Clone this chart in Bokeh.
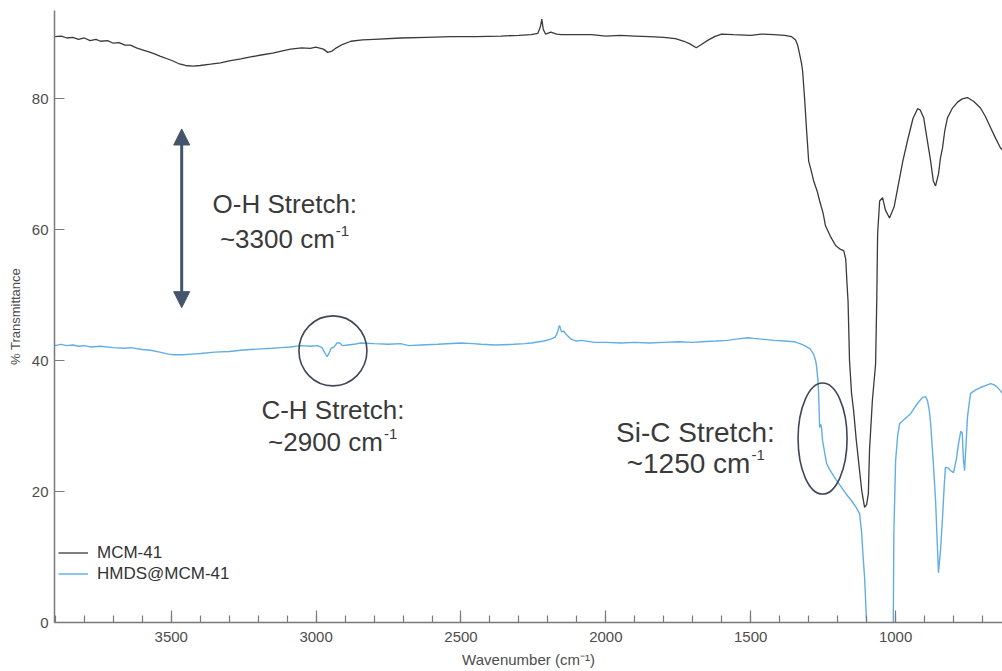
import math
from bokeh.plotting import figure
from bokeh.models import Range1d, FixedTicker, Arrow, NormalHead, Legend, LegendItem
from bokeh.core.properties import value
from bokeh.embed import file_html
from bokeh.resources import INLINE

# ---------------- data ----------------
mcm_wavenumber = [3903, 3880, 3860, 3840, 3820, 3800, 3780, 3760, 3744, 3720, 3700, 3680, 3660, 3641,
                  3620, 3600, 3580, 3560, 3537, 3500, 3475, 3451, 3425, 3400, 3364, 3330, 3300, 3260,
                  3226, 3190, 3150, 3120, 3088, 3050, 3020, 3001, 2975, 2960, 2945, 2930, 2910, 2880,
                  2840, 2800, 2708, 2620, 2535, 2450, 2362, 2300, 2258, 2235, 2226, 2221, 2216, 2208,
                  2190, 2170, 2154, 2100, 2050, 2000, 1950, 1900, 1850, 1800, 1760, 1730, 1710, 1688,
                  1670, 1650, 1625, 1601, 1560, 1500, 1463, 1420, 1383, 1359, 1345, 1338, 1332, 1325,
                  1321, 1314, 1307, 1300, 1290, 1283, 1270, 1262, 1250, 1242, 1225, 1207, 1190, 1179,
                  1172, 1168, 1164, 1159, 1152, 1145, 1136, 1128, 1117, 1107, 1100, 1094, 1090, 1080,
                  1069, 1065, 1062, 1055, 1045, 1035, 1021, 1005, 990, 975, 959, 940, 924, 915, 903,
                  890, 879, 870, 862, 852, 845, 838, 830, 821, 805, 786, 770, 752, 730, 707, 690, 672,
                  655, 638, 631]
mcm_transmittance = [89.5, 89.6, 89.3, 89.4, 89.1, 89.3, 88.9, 89.1, 88.8, 88.9, 88.5, 88.6, 88.2, 88.2,
                     87.8, 87.5, 87.2, 86.9, 86.5, 85.9, 85.4, 85.1, 85.0, 85.1, 85.3, 85.5, 85.8, 86.1,
                     86.4, 86.7, 87.0, 87.3, 87.6, 87.8, 87.7, 87.9, 87.6, 87.1, 87.3, 87.8, 88.3, 88.8,
                     89.0, 89.1, 89.3, 89.4, 89.5, 89.5, 89.6, 89.7, 89.8, 90.0, 91.0, 92.2, 90.6, 89.9,
                     90.2, 89.9, 89.8, 89.8, 89.8, 89.6, 89.7, 89.6, 89.5, 89.4, 89.2, 88.8, 88.4, 87.8,
                     88.3, 88.9, 89.5, 89.9, 89.8, 89.7, 89.9, 89.8, 89.7, 89.5, 89.0, 88.2, 87.0, 85.5,
                     84.3, 80.0, 75.1, 70.5, 68.8, 67.5, 65.8, 64.4, 62.5, 60.6, 59.0, 57.6, 57.0, 56.8,
                     55.5, 52.0, 49.0, 40.0, 35.0, 32.4, 28.0, 24.7, 20.2, 17.6, 18.0, 19.7, 26.3, 34.0,
                     39.5, 49.2, 59.4, 64.4, 64.9, 63.0, 61.8, 63.5, 67.0, 70.5, 73.6, 77.0, 78.5, 78.3, 77.1,
                     73.5, 70.5, 67.5, 66.7, 68.5, 71.0, 72.5, 75.2, 77.1, 78.5, 79.5, 80.0, 80.2, 79.6, 78.6,
                     77.3, 75.6, 74.0, 72.5, 72.2]

hmds_wavenumber = [3903, 3880, 3860, 3840, 3820, 3800, 3780, 3744, 3700, 3660, 3641, 3600, 3571, 3540,
                   3510, 3492, 3460, 3430, 3399, 3350, 3300, 3260, 3226, 3190, 3150, 3120, 3088, 3053,
                   3020, 2995, 2980, 2970, 2962, 2955, 2948, 2938, 2928, 2918, 2910, 2890, 2870, 2846,
                   2800, 2750, 2708, 2680, 2639, 2580, 2500, 2460, 2431, 2380, 2317, 2280, 2258, 2230,
                   2213, 2190, 2175, 2168, 2160, 2153, 2145, 2137, 2120, 2102, 2085, 2040, 2000, 1947,
                   1900, 1850, 1800, 1750, 1700, 1670, 1620, 1580, 1550, 1510, 1490, 1463, 1420, 1383,
                   1350, 1330, 1314, 1295, 1283, 1276, 1273, 1268, 1266, 1262, 1259, 1256, 1252, 1245,
                   1238, 1228, 1221, 1205, 1186, 1170, 1152, 1135, 1124, 1117, 1112, 1107, 1100, 1095,
                   1015, 1008, 1006, 1000, 993, 986, 969, 948, 935, 924, 907, 896, 890, 884, 879, 870,
                   862, 856, 852, 845, 838, 832, 828, 818, 810, 800, 790, 783, 775, 770, 766, 762, 757,
                   752, 746, 741, 725, 707, 690, 672, 660, 650, 640, 631]
hmds_transmittance = [42.3, 42.5, 42.3, 42.4, 42.2, 42.3, 42.1, 42.2, 42.0, 41.9, 42.0, 41.7, 41.6, 41.3,
                      41.0, 40.9, 40.9, 41.0, 41.1, 41.3, 41.4, 41.6, 41.7, 41.8, 41.9, 42.0, 42.1, 42.3,
                      42.2, 42.3, 42.0, 41.2, 40.6, 41.2, 41.9, 42.1, 42.7, 42.7, 42.3, 42.4, 42.5, 42.7,
                      42.6, 42.5, 42.6, 42.3, 42.4, 42.5, 42.7, 42.6, 42.5, 42.4, 42.5, 42.6, 42.7, 42.9,
                      43.0, 43.3, 43.6, 44.2, 45.4, 44.4, 44.5, 44.0, 43.3, 43.0, 43.1, 42.8, 42.8, 42.7,
                      42.8, 42.7, 42.8, 42.9, 42.8, 42.9, 43.0, 43.1, 43.3, 43.5, 43.4, 43.3, 43.1, 43.0,
                      42.9, 42.6, 42.3, 41.8, 41.0, 40.0, 39.2, 37.0, 35.4, 29.8, 30.3, 29.9, 27.8, 26.0,
                      24.3, 23.4, 22.9, 21.8, 20.6, 19.6, 18.6, 17.5, 16.6, 13.6, 10.0, 6.9, 0.0, -5.0,
                      -5.0, 0.0, 13.6, 24.7, 28.5, 30.4, 31.1, 31.9, 32.8, 33.5, 34.4, 34.5, 33.9, 32.5,
                      30.4, 24.5, 18.6, 12.0, 7.6, 11.0, 16.0, 21.0, 23.7, 23.6, 23.2, 22.9, 25.0, 27.3,
                      29.2, 29.0, 25.0, 23.2, 27.0, 31.3, 33.5, 35.0, 35.5, 35.9, 36.2, 36.5, 36.3, 36.0,
                      35.5, 35.0]

series_names = ["MCM-41", "HMDS@MCM-41"]
x_major_ticks = [1000, 1500, 2000, 2500, 3000, 3500]
x_minor_ticks = list(range(700, 3901, 100))
y_major_ticks = [0, 20, 40, 60, 80]

# ---------------- styles ----------------
FONT = "Liberation Sans"
BLACK_LINE = "#3a3a3a"
BLUE_LINE = "#62aee3"
AXIS_COL = "#7a7a7a"
TICK_TXT = "#4d4d4d"
ANNOT_TXT = "#3a3a3a"
SHAPE_COL = "#3f4758"
ARROW_COL = "#44546a"

p = figure(width=1002, height=671, output_backend="svg", toolbar_location=None,
           x_range=Range1d(3903, 631), y_range=Range1d(0, 93.5),
           min_border_left=54, min_border_right=0, min_border_top=10, min_border_bottom=49)
p.outline_line_color = None
p.xgrid.visible = False
p.ygrid.visible = False
p.background_fill_color = "white"
p.border_fill_color = "white"

r1 = p.line(mcm_wavenumber, mcm_transmittance, line_color=BLACK_LINE, line_width=1.3)
r2 = p.line(hmds_wavenumber, hmds_transmittance, line_color=BLUE_LINE, line_width=1.4)

# axes
xa = p.xaxis[0]
xa.ticker = FixedTicker(ticks=x_major_ticks, minor_ticks=x_minor_ticks)
xa.major_tick_in = 12
xa.major_tick_out = 0
xa.minor_tick_in = 7
xa.minor_tick_out = 0
xa.axis_line_color = AXIS_COL
xa.axis_line_width = 1.5
xa.major_tick_line_color = AXIS_COL
xa.minor_tick_line_color = AXIS_COL
xa.major_tick_line_width = 1.2
xa.minor_tick_line_width = 1.2
xa.major_label_text_font = FONT
xa.major_label_text_font_size = "15px"
xa.major_label_text_color = TICK_TXT
xa.major_label_standoff = 9
xa.axis_label = "Wavenumber (cm\u207b\u00b9)"
xa.axis_label_text_font = FONT
xa.axis_label_text_font_size = "15px"
xa.axis_label_text_font_style = "normal"
xa.axis_label_text_color = TICK_TXT
xa.axis_label_standoff = 6

ya = p.yaxis[0]
ya.ticker = FixedTicker(ticks=y_major_ticks, minor_ticks=[])
ya.major_tick_in = 10
ya.major_tick_out = 0
ya.minor_tick_in = 0
ya.minor_tick_out = 0
ya.axis_line_color = AXIS_COL
ya.axis_line_width = 1.5
ya.major_tick_line_color = AXIS_COL
ya.major_tick_line_width = 1.2
ya.major_label_text_font = FONT
ya.major_label_text_font_size = "15px"
ya.major_label_text_color = TICK_TXT
ya.major_label_standoff = 6
ya.axis_label = "% Transmittance"
ya.axis_label_text_font = FONT
ya.axis_label_text_font_size = "13px"
ya.axis_label_text_font_style = "normal"
ya.axis_label_text_color = TICK_TXT
ya.axis_label_standoff = 6

# legend
legend = Legend(items=[LegendItem(label=series_names[0], renderers=[r1]),
                       LegendItem(label=series_names[1], renderers=[r2])],
                location=(4, 38), orientation="vertical", padding=0, spacing=0,
                glyph_width=30, glyph_height=21, label_height=21, label_standoff=9,
                label_text_font=FONT, label_text_font_size="17px", label_text_color="#333333",
                background_fill_alpha=0, border_line_color=None)
p.add_layout(legend)

# annotations
p.add_layout(Arrow(x_start=3464, y_start=48.1, x_end=3464, y_end=75.4,
                   line_color=ARROW_COL, line_width=3,
                   start=NormalHead(size=16, fill_color=ARROW_COL, line_color=ARROW_COL),
                   end=NormalHead(size=16, fill_color=ARROW_COL, line_color=ARROW_COL)))

p.ellipse(x=[2942], y=[41.5], width=[68], height=[70], width_units="screen", height_units="screen",
          fill_color=None, line_color=SHAPE_COL, line_width=1.6)
p.ellipse(x=[1252], y=[28.1], width=[49], height=[111], width_units="screen", height_units="screen",
          fill_color=None, line_color=SHAPE_COL, line_width=1.6)

annotations = [
    # (center wavenumber, y of title line, y of value line, title, value text, font px, sup offset px)
    (3108, 64.0, 58.6, "O-H Stretch:", "~3300 cm", 26, 50),
    (2942, 32.4, 27.6, "C-H Stretch:", "~2900 cm", 26, 50),
    (1691, 29.0, 24.3, "Si-C Stretch:", "~1250 cm", 28, 55),
]
for xc, y1, y2, title, val, fs, off in annotations:
    p.text(x=[xc], y=[y1], text=[title], text_align="center", text_baseline="middle",
           text_font=value(FONT), text_font_size=f"{fs}px", text_color=ANNOT_TXT)
    p.text(x=[xc], y=[y2], text=[val], x_offset=off, text_align="right", text_baseline="middle",
           text_font=value(FONT), text_font_size=f"{fs}px", text_color=ANNOT_TXT)
    p.text(x=[xc], y=[y2], text=["-1"], x_offset=off + 1, y_offset=-8, text_align="left",
           text_baseline="middle", text_font=value(FONT), text_font_size="15px", text_color=ANNOT_TXT)

open("out.html", "w").write(file_html(p, INLINE))
